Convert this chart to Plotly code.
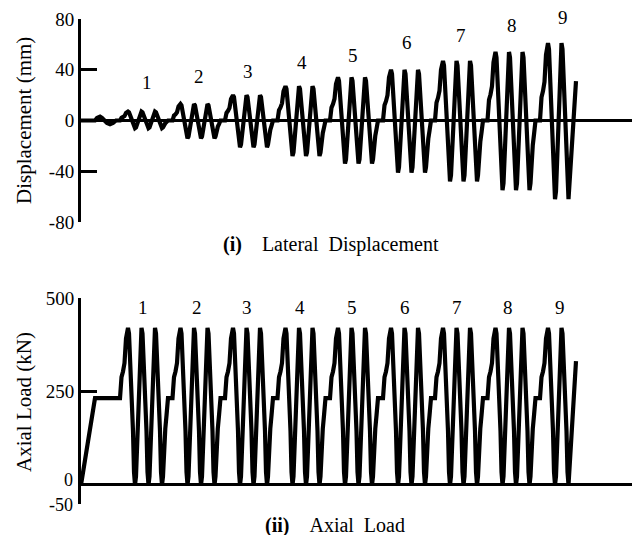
import plotly.graph_objects as go

# ---------------- data ----------------
stage_names = ["1", "2", "3", "4", "5", "6", "7", "8", "9"]
# time at which each loading stage leaves the neutral position
stage_start = [39, 91.5, 144, 196.5, 249, 302, 354, 406.5, 459]
# lateral displacement peaks per stage (mm)
disp_pos = [7, 13, 20, 27, 34, 40, 47, 54, 61]
disp_neg = [-6, -14, -21, -28, -34, -41, -48, -55, -62]
# axial load levels per stage (kN)
axial_max = [420, 420, 420, 420, 420, 420, 420, 420, 420]
axial_mid = [232, 232, 232, 232, 232, 232, 232, 232, 232]
axial_min = [0, 0, 0, 0, 0, 0, 0, 0, 0]

# shape of one 3-cycle stage: time offsets and normalised position (-1..1)
cycle_offsets = [0, 1.5, 3, 4.5, 6, 7, 8,
                 9, 10.3, 11.5, 12.3, 13, 14, 15,
                 16, 17.5, 18.3, 19, 19.8, 20.8, 21.5,
                 22.5, 23.8, 25, 25.8, 26.5, 27.5, 28.5,
                 29.5, 31, 31.8, 32.5, 33.3, 34.3, 35,
                 36, 37.3, 38.5, 39.3, 40, 41, 42,
                 43, 44.3, 45.3, 46.5, 48]
cycle_shape = [0, 0.3, 0.38, 0.5, 0.85, 0.97, 1,
               0.92, 0.5, 0, -0.3, -0.38, -0.85, -1,
               -0.9, -0.4, 0, 0.3, 0.4, 0.85, 1,
               0.92, 0.5, 0, -0.3, -0.38, -0.85, -1,
               -0.9, -0.4, 0, 0.3, 0.4, 0.85, 1,
               0.92, 0.5, 0, -0.3, -0.38, -0.85, -1,
               -0.9, -0.45, -0.35, -0.2, 0]
last_stage_cut = 28.5          # last stage stops after its second trough
end_offset = 36
end_disp = 31
end_axial = 331

# pre-loading part
pre_time = [0, 14, 16, 19, 21, 23, 26, 29, 32, 35]
pre_disp = [0, 0, 2, 3, 2, 0, -2, -3, -2, 0]
pre_axial_time = [0, 14]
pre_axial = [0, 232]

final_time = 551

# ---------------- build the traces ----------------
t_disp = list(pre_time)
v_disp = list(pre_disp)
t_ax = list(pre_axial_time)
v_ax = list(pre_axial)
for k, s in enumerate(stage_start):
    last = k == len(stage_start) - 1
    for off, u in zip(cycle_offsets, cycle_shape):
        if last and off > last_stage_cut:
            break
        t = s + off
        d = u * disp_pos[k] if u >= 0 else -u * disp_neg[k]
        a = (axial_mid[k] + u * (axial_max[k] - axial_mid[k]) if u >= 0
             else axial_mid[k] + (-u) * (axial_min[k] - axial_mid[k]))
        t_disp.append(t)
        v_disp.append(d)
        t_ax.append(t)
        v_ax.append(a)
t_disp.append(stage_start[-1] + end_offset)
v_disp.append(end_disp)
t_ax.append(stage_start[-1] + end_offset)
v_ax.append(end_axial)

FONT = "Liberation Serif"
LW = 4.2

fig = go.Figure()
fig.add_trace(go.Scatter(x=t_disp, y=v_disp, mode="lines",
                         line=dict(color="black", width=LW), xaxis="x", yaxis="y",
                         showlegend=False, hoverinfo="skip"))
fig.add_trace(go.Scatter(x=t_ax, y=v_ax, mode="lines",
                         line=dict(color="black", width=LW), xaxis="x2", yaxis="y2",
                         showlegend=False, hoverinfo="skip"))

W, H = 640, 535
xd = [81 / W, 632 / W]
y1d = [1 - 222 / H, 1 - 19 / H]
y2d = [1 - 503.6 / H, 1 - 298 / H]

xcommon = dict(range=[0, final_time], showline=False, showgrid=False, zeroline=False,
               showticklabels=False, ticks="", fixedrange=True)
ycommon = dict(showline=True, linecolor="black", linewidth=3, showgrid=False,
               zeroline=True, zerolinecolor="black", zerolinewidth=3,
               ticks="inside", ticklen=16, tickwidth=3, tickcolor="black",
               tickfont=dict(family=FONT, size=19, color="black"), automargin=False)

fig.update_layout(
    width=W, height=H,
    margin=dict(l=0, r=0, t=0, b=0),
    paper_bgcolor="white", plot_bgcolor="white",
    xaxis=dict(domain=xd, anchor="y", **xcommon),
    xaxis2=dict(domain=xd, anchor="y2", **xcommon),
    yaxis=dict(domain=y1d, anchor="x", range=[-80, 80],
               tickvals=[-80, -40, 0, 40, 80], ticktext=["-80", "-40", "0", "40", "80"],
               **ycommon),
    yaxis2=dict(domain=y2d, anchor="x2", range=[-50, 500],
                tickvals=[0, 250, 500], ticktext=["", "250", "500"], **ycommon),
)

ann = []
# stage numbers (pixel positions of the labels)
top_lab_px = [147, 199, 248, 302, 353, 407, 461, 512, 563]
top_lab_py = [82, 77, 71, 63, 55, 43, 35, 25, 18]
bot_lab_px = [143, 197, 247, 300, 352, 405, 457, 508, 560]
bot_lab_py = 307
for i, n in enumerate(stage_names):
    ann.append(dict(x=top_lab_px[i] / W, y=1 - top_lab_py[i] / H, xref="paper", yref="paper",
                    text=n, showarrow=False, xanchor="center", yanchor="middle",
                    font=dict(family=FONT, size=19, color="black")))
    ann.append(dict(x=bot_lab_px[i] / W, y=1 - bot_lab_py / H, xref="paper", yref="paper",
                    text=n, showarrow=False, xanchor="center", yanchor="middle",
                    font=dict(family=FONT, size=19, color="black")))

# lower tick labels of the axial axis (set slightly apart as in the original)
ann.append(dict(x=75 / W, y=1 - 480 / H, xref="paper", yref="paper", text="0",
                xanchor="right", yanchor="middle", showarrow=False,
                font=dict(family=FONT, size=18, color="black")))
ann.append(dict(x=75 / W, y=1 - 505 / H, xref="paper", yref="paper", text="-50",
                xanchor="right", yanchor="middle", showarrow=False,
                font=dict(family=FONT, size=18, color="black")))

# axis titles
ann.append(dict(x=24 / W, y=1 - 121 / H, xref="paper", yref="paper",
                text="Displacement (mm)", textangle=-90, showarrow=False,
                xanchor="center", yanchor="middle",
                font=dict(family=FONT, size=21, color="black")))
ann.append(dict(x=24 / W, y=1 - 402 / H, xref="paper", yref="paper",
                text="Axial Load (kN)", textangle=-90, showarrow=False,
                xanchor="center", yanchor="middle",
                font=dict(family=FONT, size=21, color="black")))

# captions
sp = "\u00a0"
ann.append(dict(x=331 / W, y=1 - 245 / H, xref="paper", yref="paper",
                text="<b>(i)</b>" + sp * 4 + "Lateral" + sp * 2 + "Displacement",
                xanchor="center", yanchor="middle",
                showarrow=False, font=dict(family=FONT, size=20, color="black")))
ann.append(dict(x=335 / W, y=1 - 525 / H, xref="paper", yref="paper",
                text="<b>(ii)</b>" + sp * 4 + "Axial" + sp * 2 + "Load",
                xanchor="center", yanchor="middle",
                showarrow=False, font=dict(family=FONT, size=20, color="black")))

fig.update_layout(annotations=ann)
fig.write_html("out.html")
